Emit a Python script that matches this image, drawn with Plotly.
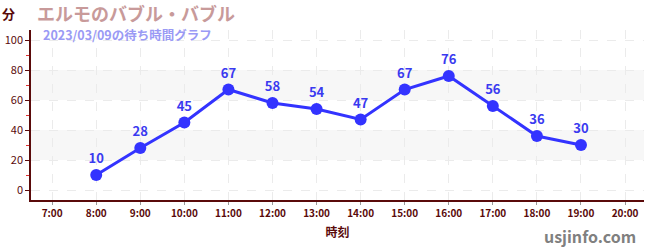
import plotly.graph_objects as go

hours = [8, 9, 10, 11, 12, 13, 14, 15, 16, 17, 18, 19]
waits = [10, 28, 45, 67, 58, 54, 47, 67, 76, 56, 36, 30]
tick_vals = list(range(7, 21))
tick_text = [f"{h}:00" for h in tick_vals]
y_ticks = [0, 20, 40, 60, 80, 100]
bands = [(20, 40), (60, 80)]

title = "エルモのバブル・バブル"
subtitle = "2023/03/09の待ち時間グラフ"
unit = "分"
xlabel = "時刻"
site = "usjinfo.com"

font = "Noto Sans CJK JP"
axis_col = "#5a0a0a"

fig = go.Figure()
fig.add_trace(go.Scatter(
    x=hours, y=waits, mode="lines+markers+text",
    text=[str(v) for v in waits], textposition="top center",
    textfont=dict(color="#3a3af0", size=13, family=font, weight="bold"),
    line=dict(color="#3333ff", width=3),
    marker=dict(color="#3333ff", size=12),
    cliponaxis=False, hoverinfo="skip",
))

for y0, y1 in bands:
    fig.add_shape(type="rect", xref="paper", yref="y", x0=0, x1=1, y0=y0, y1=y1,
                  fillcolor="#f7f7f7", line_width=0, layer="below")

fig.update_layout(
    width=650, height=250,
    margin=dict(l=31, r=6, t=30, b=50),
    paper_bgcolor="white", plot_bgcolor="white",
    showlegend=False,
    font=dict(family=font, color=axis_col),
)
fig.update_xaxes(
    range=[6.52, 20.43], tickvals=tick_vals, ticktext=tick_text,
    tickfont=dict(size=10, color=axis_col, family=font, weight="bold"),
    showline=True, linecolor=axis_col, linewidth=1.5,
    ticks="outside", ticklen=3, tickcolor="#999999",
    showgrid=True, gridcolor="#ebebeb", griddash="dash", gridwidth=1,
    zeroline=False,
    title=dict(text=xlabel, font=dict(size=12, color=axis_col, weight="bold"), standoff=10),
)
fig.update_yaxes(
    range=[-6.67, 106.67], tickvals=y_ticks,
    tickfont=dict(size=11, color=axis_col, family=font),
    showline=True, linecolor=axis_col, linewidth=1.5,
    ticks="outside", ticklen=4, tickcolor=axis_col,
    minor=dict(dtick=10, ticks="outside", ticklen=3, tickcolor="#e03030", showgrid=False),
    showgrid=True, gridcolor="#ebebeb", griddash="dash", gridwidth=1,
    zeroline=False,
)

fig.add_annotation(text=unit, xref="paper", yref="paper", x=-31/611, y=1 + 16/170,
                   xanchor="left", yanchor="middle", showarrow=False,
                   font=dict(size=13, color=axis_col, weight="bold", family=font))
fig.add_annotation(text=title, xref="paper", yref="paper", x=4/611, y=1 + 17/170,
                   xanchor="left", yanchor="middle", showarrow=False,
                   font=dict(size=18, color="#c89a9a", weight="bold", family=font))
fig.add_annotation(text=subtitle, xref="paper", yref="paper", x=10/611, y=1 - 4/170,
                   xanchor="left", yanchor="middle", showarrow=False,
                   font=dict(size=12.5, color="#9a9af5", family=font, weight="bold"))
fig.add_annotation(text=site, xref="paper", yref="paper", x=605/611, y=-36/170,
                   xanchor="right", yanchor="middle", showarrow=False,
                   font=dict(size=16, color="#808080", weight="bold", family=font))

fig.write_html("out.html")
